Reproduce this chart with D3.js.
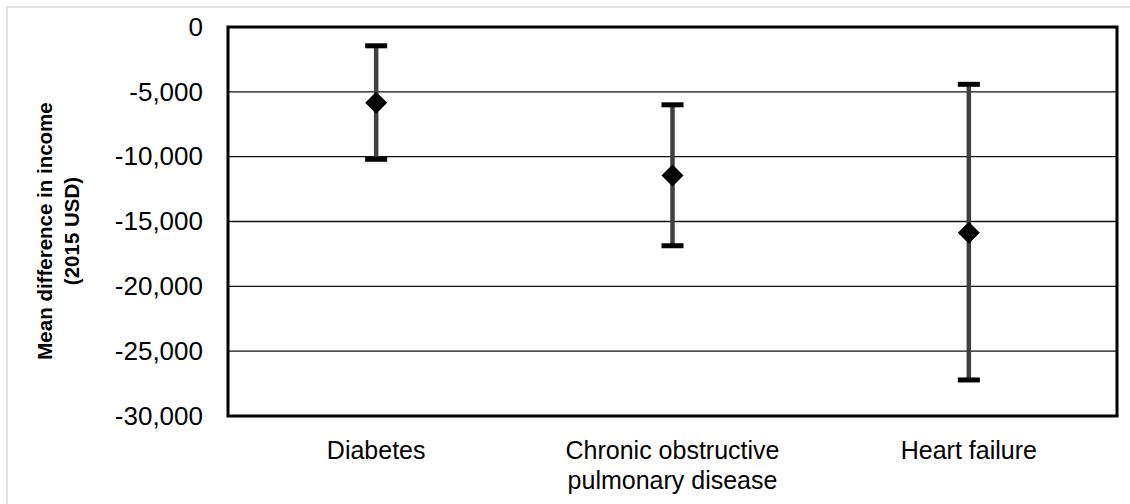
<!DOCTYPE html>
<html>
<head>
<meta charset="utf-8">
<script src="https://cdn.jsdelivr.net/npm/d3@7"></script>
<style>
  html, body { margin: 0; padding: 0; background: #fff; }
  svg { display: block; font-family: "Liberation Sans", Arial, sans-serif; }
</style>
</head>
<body>
<svg id="chart" width="1130" height="504"></svg>
<script>
// ---- data ----
const categories = ["Diabetes", "Chronic obstructive\npulmonary disease", "Heart failure"];
const meanValues = [-5850, -11450, -15870];
const lowerValues = [-10200, -16870, -27220];
const upperValues = [-1450, -6000, -4420];
const yTicks = [0, -5000, -10000, -15000, -20000, -25000, -30000];
const yTitleLines = ["Mean difference in income", "(2015 USD)"];

// ---- layout ----
const svg = d3.select("#chart");
const plot = { left: 228, top: 27, right: 1117, bottom: 416 };

// outer light border
svg.append("rect")
  .attr("x", 7).attr("y", 7).attr("width", 1300).attr("height", 700)
  .attr("fill", "#fff").attr("stroke", "#d9d9d9").attr("stroke-width", 1.5);

const x = d3.scaleBand().domain(categories).range([plot.left, plot.right]);
const y = d3.scaleLinear().domain([-30000, 0]).range([plot.bottom, plot.top]);

// gridlines
svg.append("g")
  .selectAll("line")
  .data(yTicks.filter(t => t !== 0 && t !== -30000))
  .join("line")
  .attr("x1", plot.left).attr("x2", plot.right)
  .attr("y1", d => y(d)).attr("y2", d => y(d))
  .attr("stroke", "#111").attr("stroke-width", 1.4);

// y axis tick labels
const yAxis = d3.axisLeft(y).tickValues(yTicks).tickSize(0).tickPadding(0)
  .tickFormat(d => d === 0 ? "0" : d3.format(",")(d).replace("−", "-"));
const gy = svg.append("g").attr("transform", `translate(${plot.left - 25},0)`).call(yAxis);
gy.select(".domain").remove();
gy.selectAll("text")
  .attr("font-size", 26)
  .attr("font-family", "'Liberation Sans', Arial, sans-serif")
  .attr("fill", "#000");

// x axis labels
const xAxis = d3.axisBottom(x).tickSize(0).tickFormat("");
const gx = svg.append("g").attr("transform", `translate(0,${plot.bottom})`).call(xAxis);
gx.select(".domain").remove();
gx.selectAll(".tick").each(function(d) {
  const lines = d.split("\n");
  const t = d3.select(this).append("text")
    .attr("text-anchor", "middle")
    .attr("font-size", 25)
    .attr("fill", "#000")
    .attr("y", 43);
  lines.forEach((ln, i) => {
    t.append("tspan").attr("x", 0).attr("dy", i === 0 ? 0 : 30).text(ln);
  });
});

// plot border
svg.append("rect")
  .attr("x", plot.left).attr("y", plot.top)
  .attr("width", plot.right - plot.left).attr("height", plot.bottom - plot.top)
  .attr("fill", "none").attr("stroke", "#000").attr("stroke-width", 3);

// error bars
const data = categories.map((c, i) => ({ c, mean: meanValues[i], lo: lowerValues[i], hi: upperValues[i] }));
const cx = d => x(d.c) + x.bandwidth() / 2;
const eb = svg.append("g");
eb.selectAll("line.whisker").data(data).join("line")
  .attr("class", "whisker")
  .attr("x1", cx).attr("x2", cx)
  .attr("y1", d => y(d.hi)).attr("y2", d => y(d.lo))
  .attr("stroke", "#404040").attr("stroke-width", 4.5);
const capW = 22, capH = 5;
eb.selectAll("rect.caphi").data(data).join("rect")
  .attr("class", "caphi")
  .attr("x", d => cx(d) - capW / 2).attr("y", d => y(d.hi) - capH / 2)
  .attr("width", capW).attr("height", capH).attr("fill", "#000");
eb.selectAll("rect.caplo").data(data).join("rect")
  .attr("class", "caplo")
  .attr("x", d => cx(d) - capW / 2).attr("y", d => y(d.lo) - capH / 2)
  .attr("width", capW).attr("height", capH).attr("fill", "#000");

// diamonds
const r = 11;
eb.selectAll("path.mean").data(data).join("path")
  .attr("class", "mean")
  .attr("d", d => {
    const px = cx(d), py = y(d.mean);
    return `M${px},${py - r}L${px + r},${py}L${px},${py + r}L${px - r},${py}Z`;
  })
  .attr("fill", "#000");

// y title
const yt = svg.append("text")
  .attr("transform", "translate(45,231) rotate(-90)")
  .attr("text-anchor", "middle")
  .attr("font-size", 20.5)
  .attr("font-weight", "bold")
  .attr("fill", "#000");
yTitleLines.forEach((ln, i) => {
  yt.append("tspan").attr("x", 0).attr("dy", i === 0 ? 7 : 27).text(ln);
});
</script>
</body>
</html>
